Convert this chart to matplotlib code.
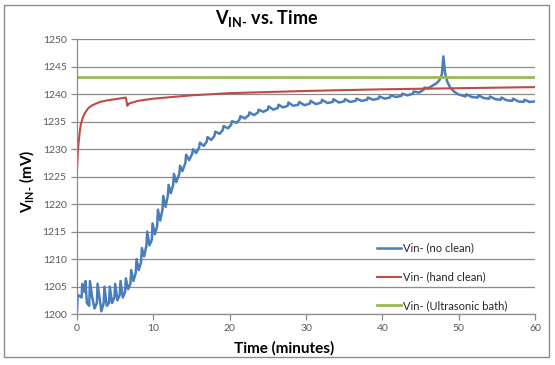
import matplotlib
matplotlib.use("Agg")
import matplotlib.pyplot as plt
from matplotlib.patches import Rectangle

plt.rcParams["font.family"] = ["Lato", "DejaVu Sans"]
plt.rcParams["mathtext.fontset"] = "custom"
plt.rcParams["mathtext.rm"] = "Lato:bold"
plt.rcParams["mathtext.bf"] = "Lato:bold"

# Vin- (no clean)
t_blue = [0, 0.1, 0.6, 0.7, 1.0, 1.1, 1.3, 1.6, 1.7, 2.0, 2.3, 2.6, 2.7, 3.0, 3.2,
          3.5, 3.6, 3.9, 4.2, 4.3, 4.6, 4.9, 5.0, 5.3, 5.6, 5.7, 6.0, 6.3, 6.4, 6.7,
          7.0, 7.1, 7.4, 7.7, 7.8, 8.1, 8.4, 8.5, 8.8, 9.1, 9.2, 9.5, 9.8, 9.9, 10.2,
          10.5, 10.6, 10.9, 11.2, 11.3, 11.6, 11.9, 12.0, 12.3, 12.6, 12.7, 13.0, 13.4,
          13.5, 13.8, 14.2, 14.3, 14.7, 15.1, 15.2, 15.6, 16.0, 16.1, 16.6, 17.0, 17.1,
          17.6, 18.0, 18.1, 18.7, 19.1, 19.2, 19.8, 20.2, 20.3, 20.9, 21.3, 21.4, 22.0,
          22.5, 22.6, 23.2, 23.7, 23.8, 24.4, 25.0, 25.1, 25.7, 26.3, 26.4, 27.0, 27.6,
          27.7, 28.3, 29.0, 29.1, 29.8, 30.5, 30.6, 31.3, 32.0, 32.1, 32.8, 33.5, 33.6,
          34.3, 35.0, 35.1, 35.8, 36.5, 36.6, 37.3, 38.0, 38.1, 38.8, 39.5, 39.6, 40.3,
          41.0, 41.1, 41.8, 42.5, 42.6, 43.3, 44.0, 44.1, 44.8, 45.4, 45.5, 46.0, 46.6,
          47.1, 47.5, 47.8, 48.0, 48.2, 48.5, 48.9, 49.4, 49.9, 50.4, 50.9, 51.0, 51.7,
          52.5, 52.6, 53.3, 54.0, 54.1, 54.8, 55.5, 55.6, 56.3, 57.0, 57.1, 57.8, 58.5,
          58.6, 59.3, 60.0]
v_blue = [1200.5, 1203.5, 1203, 1205.5, 1204, 1206, 1202, 1201.5, 1206, 1203, 1201,
          1202, 1205.5, 1202.5, 1200.5, 1202, 1205, 1201.5, 1202, 1205, 1202, 1203,
          1205.5, 1202.5, 1203.5, 1206, 1203, 1204, 1206.5, 1204.5, 1205.5, 1208,
          1206, 1207.5, 1210, 1208, 1209.5, 1212, 1210.5, 1212.5, 1215, 1212.5,
          1213.5, 1216.5, 1214.5, 1216, 1219, 1217, 1219, 1221.5, 1219.5, 1221.5,
          1223.5, 1222, 1223.5, 1225.5, 1224, 1225.5, 1227, 1226, 1227.5, 1229, 1228,
          1229.2, 1230, 1229.3, 1230.3, 1231.2, 1230.6, 1231.4, 1232.2, 1231.7,
          1232.4, 1233.2, 1232.8, 1233.5, 1234.2, 1233.8, 1234.5, 1235.1, 1234.8,
          1235.4, 1236, 1235.6, 1236.2, 1236.7, 1236.2, 1236.7, 1237.2, 1236.8,
          1237.2, 1237.8, 1237.2, 1237.5, 1238.1, 1237.6, 1237.9, 1238.5, 1237.9,
          1238.1, 1238.6, 1238.0, 1238.3, 1238.8, 1238.2, 1238.5, 1239.0, 1238.4,
          1238.6, 1239.1, 1238.5, 1238.7, 1239.1, 1238.6, 1238.8, 1239.2, 1238.8,
          1239.0, 1239.4, 1239.0, 1239.2, 1239.6, 1239.2, 1239.4, 1239.8, 1239.5,
          1239.7, 1240.1, 1239.8, 1240.1, 1240.5, 1240.3, 1240.8, 1241.2, 1241.1,
          1241.6, 1242.0, 1242.6, 1243.6, 1246.9, 1244.0, 1242.3, 1241.2, 1240.5,
          1240.0, 1239.8, 1239.6, 1240.0, 1239.5, 1239.4, 1239.8, 1239.3, 1239.2,
          1239.6, 1239.1, 1239.0, 1239.4, 1238.9, 1238.8, 1239.2, 1238.7, 1238.6,
          1239.0, 1238.6, 1238.7]

# Vin- (hand clean)
t_red = [0, 0.1, 0.2, 0.35, 0.5, 0.75, 1.0, 1.5, 2.0, 3.0, 4.0, 5.0, 6.4, 6.6, 6.8,
         8.0, 10.0, 15.0, 20.0, 30.0, 40.0, 50.0, 60.0]
v_red = [1226, 1229, 1231, 1233, 1234.5, 1235.7, 1236.5, 1237.5, 1238, 1238.6, 1238.9,
         1239.1, 1239.4, 1237.9, 1238.3, 1238.8, 1239.2, 1239.8, 1240.2, 1240.6,
         1240.9, 1241.1, 1241.3]

# Vin- (Ultrasonic bath)
t_green = [0, 60]
v_green = [1243.1, 1243.1]

grid_c = "#8c8c8c"
tick_c = "#595959"

fig = plt.figure(figsize=(5.55, 3.65), dpi=100)
ax = fig.add_axes([0.1387, 0.1397, 0.8253, 0.7526])

ax.plot(t_blue, v_blue, color="#4a7ebb", lw=1.8, label="Vin- (no clean)")
ax.plot(t_red, v_red, color="#be4b48", lw=1.5, label="Vin- (hand clean)")
ax.plot(t_green, v_green, color="#98b954", lw=2.0, label="Vin- (Ultrasonic bath)")

ax.set_xlim(0, 60)
ax.set_ylim(1200, 1250)
ax.set_xticks(range(0, 61, 10))
ax.set_yticks(range(1200, 1251, 5))
ax.grid(axis="y", color=grid_c, lw=0.9)
ax.set_axisbelow(True)
for s in ["top", "right"]:
    ax.spines[s].set_visible(False)
for s in ["left", "bottom"]:
    ax.spines[s].set_color(grid_c)
    ax.spines[s].set_linewidth(0.9)
ax.tick_params(colors=grid_c, labelcolor=tick_c, labelsize=7.5, length=4, width=0.9)

fig.text(0.48, 0.95, r"V$_{\mathbf{IN}\text{-}}$ vs. Time", ha="center", va="center",
         fontsize=13, fontweight="bold")
fig.text(0.512, 0.047, "Time (minutes)", ha="center", va="center",
         fontsize=11, fontweight="bold")
fig.text(0.049, 0.504, r"V$_{\mathbf{IN}\text{-}}$ (mV)", ha="center", va="center",
         rotation=90, fontsize=11, fontweight="bold")

ax.legend(loc="upper left", bbox_to_anchor=(0.679, 0.335), bbox_transform=fig.transFigure,
          frameon=False, fontsize=8, handlelength=2.2, handletextpad=0.15,
          labelspacing=1.6, borderpad=0, borderaxespad=0, labelcolor="#262626")

fig.add_artist(Rectangle((0.0072, 0.022), 0.982, 0.964, transform=fig.transFigure,
                         fill=False, edgecolor=grid_c, lw=1))

fig.savefig("out.png", dpi=100)
